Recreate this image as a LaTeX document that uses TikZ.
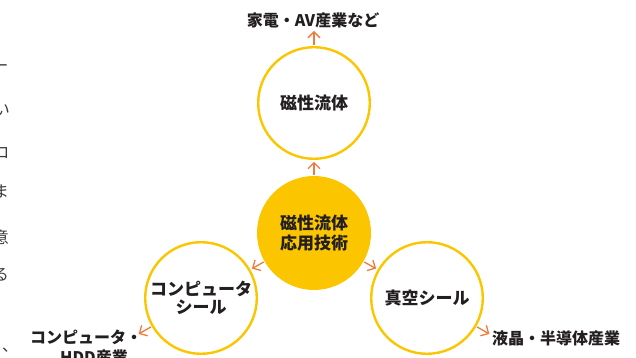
\documentclass[tikz,border=0pt]{standalone}
\usepackage{fontspec}
\newfontfamily\jp{Noto Sans CJK JP}
\newfontfamily\jpk{Noto Sans CJK JP Black}
\usetikzlibrary{arrows.meta,calc}
\definecolor{ylw}{HTML}{FBC600}
\definecolor{org}{HTML}{F07A3C}
\definecolor{txt}{HTML}{231F20}
\definecolor{fragc}{HTML}{3A3A3A}
\tikzset{
  sat/.style={circle, draw=ylw, line width=2.4pt, minimum size=111.6pt, inner sep=0pt, outer sep=0pt,
    font=\jpk\fontsize{17}{18}\selectfont, text=txt, align=center},
  hub/.style={circle, fill=ylw, minimum size=114pt, inner sep=0pt, outer sep=0pt,
    font=\jpk\fontsize{17}{20}\selectfont, text=txt, align=center},
  lbl/.style={font=\jpk\fontsize{16}{20}\selectfont, text=txt, inner sep=0pt},
  frag/.style={font=\jp\fontsize{16}{16}\selectfont, text=fragc, inner sep=0pt},
  arr/.style={draw=org, line width=1.3pt, -{Straight Barb[length=6pt,width=12pt]}}
}
\begin{document}
\begin{tikzpicture}[x=1pt,y=1pt]
\useasboundingbox (0,0) rectangle (636,358);
\clip (0,0) rectangle (636,358);
% circles
\node[hub] (c) at (314,125) {磁性流体\\応用技術};
\node[sat] (t) at (314,255) {磁性流体};
\node[sat] (l) at (201,60) {コンピュータ\\シール};
\node[sat] (r) at (427,60) {真空シール};
% labels
\node[lbl] (lt) at (313,338) {家電・AV産業など};
\node[lbl, anchor=west] (lr) at (492,20) {液晶・半導体産業};
\node[lbl, align=center] (ll) at (86,11) {コンピュータ・\\\hspace*{16pt}HDD産業};
% arrow ends
\coordinate (et) at ($(t)+(90:72pt)$);
\coordinate (el) at ($(l)+(210:72pt)$);
\coordinate (er) at ($(r)+(330:72pt)$);
% arrows
\draw[arr, shorten <=1pt, shorten >=3pt] (c.90) -- (t.270);
\draw[arr, shorten <=1pt, shorten >=3pt] (c.210) -- (l.30);
\draw[arr, shorten <=1pt, shorten >=3pt] (c.330) -- (r.150);
\draw[arr, shorten <=2pt] (t.90) -- (et);
\draw[arr, shorten <=2pt] (l.210) -- (el);
\draw[arr, shorten <=2pt] (r.330) -- (er);
% clipped fragments of neighbouring text at the left edge
\node[frag] (f1) at (0.5,290) {ー};
\node[frag] (f2) at (2,248) {い};
\node[frag] (f3) at (1.5,205) {ロ};
\node[frag] (f4) at (1,166) {ま};
\node[frag] (f5) at (1,121) {意};
\node[frag] (f6) at (1,83) {る};
\node[frag] (f7) at (10,8) {、};
\end{tikzpicture}
\end{document}
